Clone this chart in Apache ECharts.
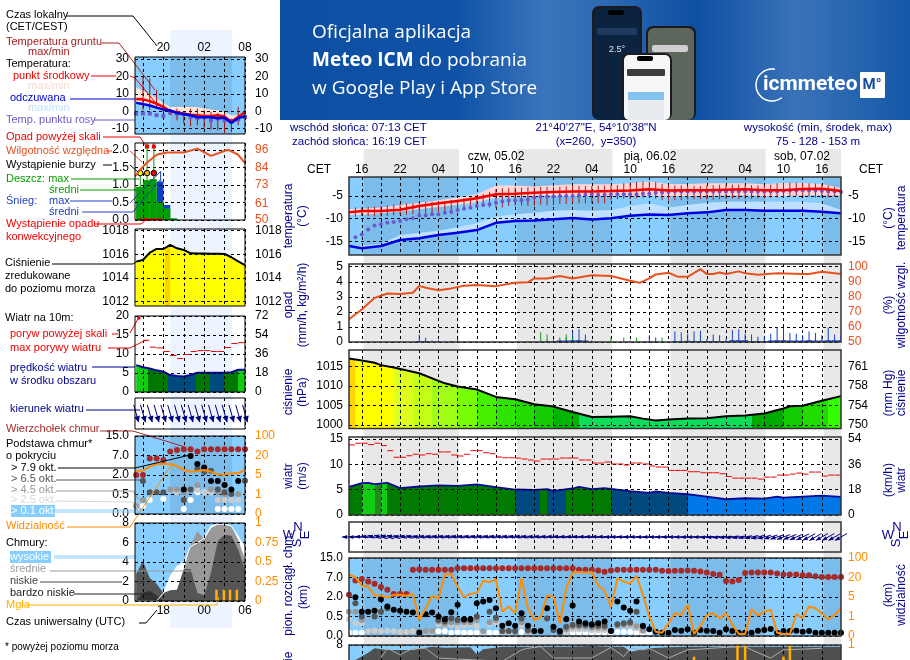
<!DOCTYPE html>
<html>
<head>
<meta charset="utf-8">
<title>Meteo ICM</title>
<script src="https://cdn.jsdelivr.net/npm/echarts@6/dist/echarts.min.js"></script>
<style>
html, body { margin: 0; padding: 0; background: #fff; overflow: hidden; }
#chart { width: 910px; height: 660px; }
</style>
</head>
<body>
<div id="chart"></div>
<script>
const _ = null;

// main chart: hours counted from midnight before the first label, one value per hour 14..91
const mainGridHours = [16,19,22,25,28,31,34,37,40,43,46,49,52,55,58,61,64,67,70,73,76,79,82,85,88];
const mainLabelHours = [16,22,28,34,40,46,52,58,64,70,76,82,88];
const mainLabels = ['16','22','04','10','16','22','04','10','16','22','04','10','16'];
const nightBands = [[16.3,31.2],[40.3,55.2],[64.3,79.2],[88.3,91]];
const knotHours = [14,16,19,22,25,28,31,34,37,40,43,46,49,52,55,58,61,64,67,70,73,76,79,82,85,88,91];

const tempMid = [-8.6,-8.3,-8.3,-8.0,-7.2,-6.6,-6.1,-5.5,-4.6,-4.5,-4.3,-4.1,-4.0,-4.0,-3.9,-3.75,-3.5,-3.75,-3.7,-3.7,-3.6,-3.5,-3.7,-3.7,-3.45,-3.4,-3.9];
const tempMax = [-7.9,-7.8,-7.5,-7.0,-6.5,-5.9,-5.3,-4.6,-2.7,-2.7,-2.9,-2.6,-2.4,-2.4,-2.4,-2.2,-1.8,-2.35,-2.35,-2.2,-2.2,-2.2,-2.4,-2.1,-2.1,-2.35,-3.2];
const tempMin = [-9.2,-9.1,-8.8,-8.4,-7.9,-7.4,-6.9,-6.3,-5.4,-5.2,-5.0,-5.0,-5.0,-5.0,-5.0,-5.0,-4.9,-5.0,-5.0,-5.0,-4.9,-4.9,-5.0,-5.0,-4.8,-4.8,-4.8];
const feels = [-16.0,-16.5,-16.0,-14.7,-14.3,-13.6,-13.1,-12.5,-10.9,-10.5,-10.4,-10.1,-9.85,-10.15,-9.9,-9.35,-9.05,-9.2,-8.8,-8.6,-8.1,-8.1,-8.25,-8.25,-8.25,-8.45,-8.8];
const feelsMax = [-15.9,-15.9,-15.6,-13.6,-13.1,-12.65,-11.9,-11.0,-9.55,-9,-8.7,-8.25,-8.1,-8.25,-8.1,-7.2,-6.6,-7.5,-7,-6.5,-6.25,-6.25,-6.25,-6.25,-6.25,-6.6,-8.1];
const dewPoint = [_,-14.1,-13.5,-12.4,-11.5,-11.2,-10.9,-10.7,-10.5,-10.1,-9.9,-9.3,-9.3,-9.0,-9.0,-8.7,-8.5,-8.1,-7.8,-7.6,-7.2,-7.0,-6.8,-6.5,-6.2,-6.0,-6.0,-5.9,-5.8,-5.3,-5.1,-5.1,-5.1,-5.0,-5.0,-5.0,-4.8,-4.7,-4.6,
  -4.7,-4.7,-4.6,-4.6,-4.6,-4.6,-4.6,-4.5,-4.5,-4.3,-4.2,-4.1,-4.0,-4.0,-4.0,-4.0,-4.0,-4.0,-4.0,-4.0,-4.0,-4.0,-4.0,-4.0,-4.0,-4.0,-4.0,-4.0,-4.0,-3.9,-3.8,-3.8,-3.8,-3.8,-3.8,-3.9,-4.0,-4.0,-4.1];
const groundMax = [_,-7.5,-7.5,-7.4,-7.35,-7.2,-7.05,-6.9,-6.75,-6.6,-6.6,-6.5,-6.3,-6.25,-6.2,-6.1,-5.9,-5.75,-5.5,-5.3,-4.8,-4.55,-4.1,-3.5,-3.3,-3.25,-3.15,-3.15,-3.1,-3.1,-3,-3,-2.95,-2.95,-2.85,-2.8,-2.8,-2.8,-2.8,
  -2.7,-2.7,-2.65,-2.6,-2.2,-2.05,-1.9,-1.8,-1.8,-1.9,-2.35,-2.5,-2.65,-2.65,-2.8,-2.8,-2.8,-2.65,-2.6,-2.5,-2.5,-2.45,-2.45,-2.45,-2.6,-2.65,-2.65,-2.5,-2.2,-2.05,-2.05,-2.05,-2.2,-2.2,-2.2,-2.35,-2.65,-2.95,-3.3];
const groundMin = [_,-9.55,-9.4,-9.4,-9.5,-9.55,-9.4,-9.25,-9.1,-9.1,-9,-9.1,-9.05,-8.8,-8.5,-8.4,-8.3,-8.1,-7.8,-7.5,-7.5,-7.35,-7.5,-7.65,-7.5,-7.2,-7.2,-7.05,-7.2,-7.2,-6.9,-7.05,-7,-6.75,-6.75,-6.6,-6.6,-6.6,-6.6,
  -6.6,-6.6,-5.9,-5.7,-5.6,-5.7,-5.5,-5.3,-5.3,-5.6,-5.9,-6,-5.9,-5.9,-5.8,-5.7,-5.7,-5.8,-5.8,-5.7,-5.6,-5.6,-5.7,-5.6,-5.6,-5.5,-5.5,-5.4,-5.3,-5.3,-5.2,-5.0,-5.0,-5.1,-5.3,-5.3,-5.3,-5.2,-4.9];

const humidityHours = [14,16,18,19,20,22,24,25,26,28,30,32,34,37,40,42,43,45,47,49,52,55,58,59.5,61,62,64,65.5,67,69,70,71,72,73,75,76,78,81,85,86,88,91];
const humidity = [65.1,71.6,79.3,80.7,82.2,81.8,82.7,87.3,86,84.4,85.6,87.3,87.8,87.1,89.3,89.6,92.2,92.2,93.8,92.2,94.4,93.8,90.7,89.3,92.2,94.9,96,93.3,93.3,98.4,95.1,95.1,96.2,95.1,96.9,95.6,94.7,95.6,95.1,95.1,96.7,95.1];
// hourly rain and snow spikes (mm/h)
const snowPeak = [0,0,0,0.03,0,0,0,0.05,0.03,0,0.05,0.5,0.28,0.1,0.12,0.03,0.08,0.2,0.05,0.03,0.03,0,0,0,0,0,0,0,0,0.05,0,0.1,0.03,0.15,0.3,0.7,0.85,0.5,0.1,0,0,0,0,0,0.1,0.02,
  0,0.45,0.3,0,0,0.7,0.65,0.55,0.7,0.75,0.2,0.5,0.45,0.2,0.8,0.85,0.55,0.5,0.35,0.4,0.55,1.0,0.95,0.6,0.55,0.45,0.7,0.6,0.45,0.95,0.5,0.45];
const rainPeak = [0,0,0,0,0,0,0,0,0,0,0,0,0,0,0,0,0,0,0,0,0,0,0,0,0,0,0,0,0.05,0,0.65,0.5,0.2,0.3,0.5,0.3,0.1,0.2,0.1,0,0,0.3,0,0.3,0,0.3,
  0,0,0,0.3,0,0,0,0,0.1,0.1,0.1,0.1,0.1,0,0,0,0,0,0,0,0,0,0,0,0,0,0,0,0,0,0,0];
const snowMean = [0,0,0,0,0,0,0,0,0,0,0,0.05,0.05,0,0,0,0,0,0,0,0,0,0,0,0,0,0,0,0,0,0.02,0.02,0.05,0.1,0.1,0.12,0.12,0.1,0,0,0,0,0,0,0,0,
  0,0.02,0.02,0,0,0.05,0.05,0.08,0.05,0.05,0.05,0.05,0.05,0.05,0.12,0.12,0.12,0.05,0.05,0.05,0.1,0.12,0.12,0.1,0.1,0.1,0.12,0.1,0.1,0.12,0.12,0.12];

const pressureHours = [14,16,18,19,21,25,29,31,34,37,40,43,46,49,52,55,58,60,62,64,67,70,73,76,79,82,83,85,88,91];
const pressure = [1017.1,1016.6,1016.0,1015.4,1014.8,1013.3,1010.7,1009.9,1009.1,1007.2,1006.6,1005.3,1004.7,1003.3,1002.0,1002.1,1002.2,1001.6,1001.1,1001.4,1001.6,1001.7,1002.2,1002.4,1002.9,1004.2,1004.8,1004.9,1006.2,1007.4];
const pressureTicks = [1000,1005,1010,1015];
const pressureMmHg = ['750','754','758','761'];
const pressureShadeHours = [14,15,21,24,27,31,34,37,40,43,46,50,77,82,85,89,91];
const pressureShades = ['#ffd400','#ffff00','#ddff20','#c4ff18','#a0ff14','#78ff08','#44f000','#2ee400','#22dc00','#14cc00','#00b400','#10dc5c','#00aa00','#11cc00','#22dc00','#33ff00'];

const windHours = [14,16,17,18,20,22,25,28,31,34,37,40,43,45,46,49,50,52,54,55,58,61,62,64,67,70,73,76,79,81,82,85,88,91];
const wind = [5.56,6.29,6.36,6.09,6.36,5.3,5.63,5.83,5.76,6.03,5.5,5.03,4.97,5.1,4.77,5.23,5.56,5.1,5.3,5.17,4.7,4.37,4.64,4.37,4.1,3.64,3.11,3.31,3.25,3.64,3.44,3.64,3.84,3.58];
const windShadeHours = [14,16,18,19,20,40,43.9,45,48,55,67,91];
const windShades = ['#007a00','#11cc11','#228822','#11cc11','#007a00','#004a80','#007a00','#004a80','#007a00','#004a80','#0078e8'];
const gust = [13.84,14.17,14.17,13.9,14.17,13.7,12.7,11.4,11.4,11.7,12,11.85,12.1,12,12.45,12.45,11.85,11.65,12,12.7,12.7,12.3,12.1,11.45,11.3,11.3,11.25,11.05,10.86,10.66,11.05,11.05,11.05,11.25,11.25,11.25,10.86,10.86,10.26,
  10.26,10.46,10.07,10.07,9.87,10.26,10.26,10.07,9.67,9.47,9.47,8.8,8.8,8.8,8.54,8.54,8.34,8.34,8.34,8.15,7.6,7.28,7.28,7.28,7.28,7.09,7.48,7.48,7.88,7.88,8.08,8.28,8.08,8.48,8.48,7.68,7.88,7.88];
const windDir = [90,90,95,98,102,105,105,103,100,100,100,98,98,98,98,98,98,98,98,98,98,98,98,98,98,98,98,98,98,97,97,96,96,96,95,95,95,95,95,
  94,94,93,93,92,92,92,90,90,90,90,90,90,90,88,88,88,86,85,84,84,82,82,80,78,76,75,74,72,70,68,66,64,62,60,60,60,60,60];

// cloud base panel: values are positions on its stepped scale, 0=0.0 km, 1=0.5, 2=2, 3=7, 4=15
const baseTicks = [0,1,2,3,4];
const baseLabels = ['0.0','0.5','2.0','7.0','15.0'];
const visLabels = ['0','1','5','20','100'];
const cloudTop = [2.11,2.85,2.92,2.8,2.68,2.51,2.37,2.16,2.16,2.15,3.4,3.42,3.4,3.4,3.4,3.4,3.4,3.47,3.47,3.47,3.47,3.47,3.47,3.47,3.47,3.47,3.47,3.47,3.47,3.47,3.47,3.47,3.47,3.47,3.47,3.47,3.4,3.4,3.4,
  3.36,3.3,3.36,3.4,3.4,3.4,3.4,3.4,3.4,3.4,3.35,3.33,3.35,3.35,3.36,3.35,3.31,3.26,3.18,3.14,2.82,2.8,2.87,3.23,3.26,3.26,3.26,3.26,3.21,3.16,3.16,3.16,3.12,3.12,3.06,3.02,3.02,3.02,3.02];
const baseBlack = [_,1.99,1.25,1.25,1.29,1.89,1.51,1.34,1.29,1.25,1.2,.17,1.12,1.2,1.0,.86,1.22,1.6,.86,.86,1.68,1.77,1.85,1.42,.53,.65,.52,1.17,.53,.26,.26,1.42,.48,.26,.86,1.56,.74,.65,.6,
  .65,.74,.26,1.77,1.46,1.3,1.77,.52,.34,.22,.17,.17,.31,.27,.34,.17,.31,.27,.26,.17,.34,.26,.17,.17,.17,.27,.31,.36,.17,.26,.26,.27,.22,.26,.17,.17,.17,.17,.17];
const baseDark = [_,1.68,1.0,_,1.0,1.25,1.42,_,_,_,_,_,_,_,.82,.74,.9,.82,.82,.82,1.0,_,1.25,.94,.26,.26,.26,.9,.31,_,_,.9,.31,.17,.48,.57,.57,.57,.52,
  .52,.52,.26,.6,.65,.7,1.25,.48,_,_,_,_,_,_,_,_,_,_,_,_,_,_,_,_,_,_,_,_,_,_,_,_,_,_,_,_,_,_,_];
const baseMid = [1.25,1.25,.82,_,_,_,_,_,_,_,_,.26,.26,.26,.75,.62,.7,.7,.7,.7,.82,.26,.7,.82,.26,.26,.2,.7,.2,_,_,_,_,_,.35,.48,.48,.48,.42,
  .42,.42,_,.52,.57,.6,.5,.3,_,_,_,_,_,_,_,_,_,_,_,_,_,_,_,_,_,_,_,_,_,_,_,_,_,_,_,_,_,_,_];
const baseLight = [.86,.65,.65,.25,.27,.25,.27,.25,.2,.2,.25,.2,.22,.2,.62,.55,.55,.45,.55,.6,.5,.2,.6,.7,.2,.2,.2,.52,_,_,_,_,_,_,.22,.35,.35,.35,.3,
  .3,.3,_,.5,.5,.52,.4,.25,_,_,_,_,_,_,_,_,_,_,_,_,_,_,_,_,_,_,_,_,_,_,_,_,_,_,_,_,_,_,_];
const baseWhite = [.17,.17,.17,_,_,_,_,_,_,_,_,_,_,_,.25,.25,.17,.2,.17,.17,.17,.17,.17,.17,_,_,_,.2,.17,_,_,_,_,_,.2,.17,.17,.17,.17,
  .17,.17,.17,.2,.2,.2,.17,.17,.17,_,_,_,_,_,_,_,_,_,_,_,_,_,_,_,_,_,_,_,_,_,_,_,_,_,_,_,_,_,_];
const visibility = [3.14,3.02,2.58,2.54,2.08,2.08,1.97,2.11,2.11,2.06,2.16,.82,1.42,2.06,1.91,3.16,3.18,2.54,1.99,2.16,2.2,2.83,2.76,2.9,1.25,1.51,1.17,2.97,1.42,.82,.94,2.06,2.03,.65,2.45,3.26,3.28,3.26,3.28,
  2.58,2.32,1.48,2.94,2.8,2.68,3.09,2.11,1.0,.22,.17,.65,1.17,1.08,1.6,.1,.52,1.08,1.17,.91,1.17,.57,.1,.1,1.37,1.05,1.25,1.34,.17,.1,.1,1.12,.91,1.51,1.42,1.17,.86,1.08,1.42];

const cloudHours = [14,15,17,18,20,22,24,27,29,33,34,35,38,43,48,52,55,57,58,61,64,67,91];
const lowCloud = [5.44,6.46,7.2,7.66,7.5,7.5,7.5,7.83,7.73,7.76,7.04,7.56,7.83,7.83,7.83,7.9,7.83,7.83,7.3,7.66,7.76,7.83,7.83];
const highLineHours = [19,20,22,24,26,28,38,41,42,44,46,52,55,57,58,60,61,64,67,73,76,77,80,82,88];
const highLine = [6.66,7.66,7,7.66,7.66,6.66,6.33,7.5,7.66,7.83,6.66,6.66,7.76,6.8,7.66,7.5,7.66,6.66,7.5,7.76,7.83,7.5,6.66,7.5,7.66];
const fogHours = [68,74.8,76,82,83];
const fog = [0.85,1,1,0.85,1];

// left legend chart, one value per hour 16..32
const legendGridHours = [17,20,23,26,29,32];
const legendLabelHours = [20,26,32];
const legendLocal = ['20','02','08'];
const legendUtc = ['18','00','06'];
const legendNight = [[21,30.1]];
const redL = [7.1,6.8,5.8,4.3,2.5,0,-0.6,-1.4,-2,-2.3,-2.7,-2.7,-2.3,-3.2,-6,-3.2,-0.6];
const pinkMaxL = [13.7,11.8,9.7,7.3,4.8,2.5,2.5,2.5,2.5,2.5,1.5,1,0.6,-0.4,-2.3,-2.3,-0.4];
const pinkMinL = [5.6,5,4.2,3,1.2,-1,-1.6,-2.2,-2.8,-3.2,-3.6,-3.6,-3.2,-4.2,-7,-4.2,-1.6];
const feelsL = [4.8,4.1,3.3,2.1,1,0.4,-1,-1.7,-2.3,-3.5,-3.5,-3.5,-4.1,-3.7,-6.8,-3.9,-2.9];
const dewL = [-1.35,-1.35,-1.35,-2.3,-2.7,-1,-1.35,-1.5,-3.3,-3.9,-3.3,-5.2,-4.25,-5.2,-5.6,-4.8,-3.3];
const groundHoursL = [17,18,19,20,21,22,23,24,25,26,27,28,29,30,31];
const groundMaxL = [20.3,18.9,12.2,7,1.5,1.5,-0.4,1.5,1.5,0.6,-0.4,-1,-1.35,-4.25,2.5];
const groundMinL = [0.6,0.6,1.5,-0.5,-2.3,-5.2,-7.1,-8.7,-8.1,-10,-10.6,-11,-12.6,-12,-8.1];

const humidityHoursL = [15.83,16.5,17.5,19,20.5,23,25,27,29.5,31,32];
const humidityL = [78.5,82.4,87.2,92.7,94.2,94.2,96.7,92,96,92.7,87.2];
const rainHoursL = [16.5,17.5,18.5,19.5,20.5,21.5];
const rainMeanL = [0.95,1.14,1.17,0.52,0.33,0.05];
const snowMeanL = [0,0,0,1.1,0.43,0];
const rainMaxHoursL = [16.6,17.6,18.6];
const rainMaxL = [1.4,2.3,2.3];
const snowMaxL = 1.4;
const overScaleHoursL = [17.6,18.6];
const convectHoursL = [16.6,17.2,17.6,18.2,18.6,19.2,19.6];

const pressureL = [1015.38,1015.52,1016.14,1016.45,1016.45,1016.79,1016.51,1016.37,1016.08,1016.06,1016.06,1016.05,1016.04,1016.03,1015.75,1015.4,1015.09];
const pressureShadeHoursL = [15.83,20.3,21,32];
const pressureShadesL = ['#ffff00','#ffd000','#ffff00'];
const windL = [7.07,6.5,6.2,5.7,5.33,4.45,4.2,4.1,4.5,5.07,5.07,5.07,5.07,5.07,5.2,5.85,5.85];
const windShadeHoursL = [15.83,17.7,20.7,24.8,26.8,28.9,31,32];
const windShadesL = ['#11cc11','#007700','#004a80','#007700','#004a80','#007700','#11cc11'];
const gustHoursL = [17,18,19,20,21,22,23,24,25,26,27,28,29,30,31];
const gustL = [13.6,11.8,11.6,10.65,9.6,8.8,9.87,10.65,10.9,10.9,10.65,10.65,11.7,12.75,13];
const windDirL = [344,344,344,344,344,344,344,344,344,344,344,344,344,344,344,344,344];

const topsL = [2,2,2.85,2.85,2.77,3.2,3.28,3.32,3.32,3.2,3.32,3.32,3.32,3.32,3.32,3.32,3.32];
const blackL = [_,_,_,_,_,_,_,1.26,2.97,2.56,2.38,1.69,1.69,1.49,1.26,1.69,_];
const darkL = [_,1.69,1.11,1.11,1.11,_,_,.72,1.26,2.31,2.17,2.22,1.26,1.11,1.03,_,1.71];
const midL = [.41,.72,_,_,_,1.26,1.26,1.11,_,1.49,_,1.26,1.11,1.03,_,1.03,_];
const lightL = [.45,_,_,_,_,1.23,1.11,_,_,1.23,1.11,1.11,.72,.72,.72,.72,_];
const whiteL = [_,.41,.72,_,.77,_,_,.26,.72,1.11,1.11,1.11,.26,.26,.26,.26,_];
const visL = [2.22,2.22,2.43,2.56,2.56,2.56,2.46,2.26,2.17,2.2,2.26,2.17,2.03,2.03,2.09,2.09,2.26];

const lowL = [2.8,4.07,2.36,1.78,.82,1.1,1.16,3.29,3.29,.82,.58,2.88,6.13,6.8,6.7,5.27,3.2];
const midCloudL = [0,0,0,0,0,0,0,3.2,5.8,7.16,6.3,7.5,7.84,7.84,7.67,6.3,4.25];
const highCloudL = [0,0,0,0,.8,2.53,3.56,3.97,5.6,5.96,6.47,7.67,7.9,7.9,7.67,6.64,5.45];
const veryLowL = [0,.82,1.06,.58,0,0,0,0,0,0,0,0,0,0,0,0,0];
const fogHoursL = [27.8,28.9,29.8,30.8];
const fogL = [0.145,0.145,0.145,0.145];

const FONT = 'Liberation Sans';
const NAVY = '#00008b';
const ORANGE = '#ff8c00';
const HUMID = '#e8501e';
const SKY = '#87ceff';
const SKY_NIGHT = '#7cbcea';
const DASH = [3, 3];

const chart = echarts.init(document.getElementById('chart'));
const grids = [], xAxes = [], yAxes = [], series = [], graphics = [];
let textSize = 11.5;

function hourSpan(a, b) {
    let out = [];
    for (let h = a; h <= b; h++) out.push(h);
    return out;
}
const mainHours = hourSpan(14, 91);
const legendHours = hourSpan(16, 32);

function zip(xs, ys) {
    return xs.map((x, i) => [x, ys[i]]).filter(p => p[1] !== null && p[1] !== undefined);
}

function yAxisDef(grid, y, side) {
    return {
        type: 'value', gridIndex: grid, position: side, min: y.min, max: y.max, z: 3,
        axisLine: {show: false},
        axisTick: {show: false, customValues: y.ticks},
        axisLabel: {
            show: !!y.ticks, customValues: y.ticks, margin: y.margin, color: y.color || '#000',
            fontFamily: FONT, fontSize: 12,
            formatter: v => {
                let i = y.ticks.indexOf(v);
                return y.labels ? y.labels[i] : String(v);
            }
        },
        splitLine: {show: side === 'left' && !!y.ticks, lineStyle: {color: '#000', type: DASH, width: 1}}
    };
}

// one framed panel: a grid with its x axis and a y axis on each side
function addPanel(box, xr, gridHours, xl, yl, yr) {
    let g = grids.length;
    grids.push({left: box[0], top: box[1], width: box[2], height: box[3], containLabel: false, outerBoundsMode: 'none'});
    let xi = xAxes.length;
    xAxes.push({
        type: 'value', gridIndex: g, min: xr[0], max: xr[1], z: 3, position: xl ? xl.pos : 'bottom',
        axisLine: {show: false},
        axisTick: {show: false, customValues: gridHours},
        axisLabel: xl ? {
            customValues: xl.hours, margin: xl.margin, color: '#000', fontFamily: FONT, fontSize: 12,
            formatter: v => xl.texts[xl.hours.indexOf(v)]
        } : {show: false},
        splitLine: {show: true, lineStyle: {color: '#000', type: DASH, width: 1}}
    });
    let yi = yAxes.length;
    yAxes.push(yAxisDef(g, yl, 'left'));
    yAxes.push(yAxisDef(g, yr || yl, 'right'));
    graphics.push({type: 'rect', z: 40, shape: {x: box[0], y: box[1], width: box[2], height: box[3]},
        style: {fill: 'none', stroke: box.stroke || '#000', lineWidth: box.lw || 1}});
    return {x: xi, y: yi, y2: yi + 1, box: box, xr: xr};
}

function bands(p, ranges, color, z) {
    series.push({
        type: 'custom', xAxisIndex: p.x, yAxisIndex: p.y, z: z || 1, silent: true, clip: true,
        data: ranges, encode: {x: [0, 1]},
        renderItem: (params, api) => {
            let a = api.coord([api.value(0), p.ymid]), b = api.coord([api.value(1), p.ymid]);
            return {type: 'rect', shape: {x: a[0], y: params.coordSys.y, width: b[0] - a[0], height: params.coordSys.height},
                style: {fill: color}};
        }
    });
}

function rangeBand(p, xs, hi, lo, color, z) {
    series.push({
        type: 'custom', xAxisIndex: p.x, yAxisIndex: p.y, z: z || 2, silent: true,
        data: [[xs[0], hi[0]]], clip: true,
        renderItem: (params, api) => {
            let pts = xs.map((x, i) => api.coord([x, hi[i]]));
            for (let i = xs.length - 1; i >= 0; i--) pts.push(api.coord([xs[i], lo[i]]));
            return {type: 'polygon', shape: {points: pts}, style: {fill: color}};
        }
    });
}

function line(p, xs, ys, color, width, z, yi) {
    series.push({
        type: 'line', xAxisIndex: p.x, yAxisIndex: yi === undefined ? p.y : yi, data: zip(xs, ys), z: z || 6,
        symbol: 'none', silent: true, connectNulls: true,
        lineStyle: {color: color, width: width || 2}
    });
}

function area(p, xs, ys, fill, lineColor, width, z, yi) {
    series.push({
        type: 'line', xAxisIndex: p.x, yAxisIndex: yi === undefined ? p.y : yi, data: zip(xs, ys), z: z || 2,
        symbol: 'none', silent: true,
        lineStyle: {color: lineColor || fill, width: width === undefined ? 0 : width},
        areaStyle: {color: fill, opacity: 1, origin: 'start'}
    });
}

// fill whose colour changes at fixed hours
function shade(p, hours, colors) {
    let left = p.box[0], w = p.box[2], span = p.xr[1] - p.xr[0], stops = [];
    colors.forEach((c, i) => {
        stops.push({offset: (hours[i] - p.xr[0]) / span, color: c});
        stops.push({offset: (hours[i + 1] - p.xr[0]) / span, color: c});
    });
    return {type: 'linear', x: left, y: 0, x2: left + w, y2: 0, global: true, colorStops: stops};
}

function dots(p, xs, ys, color, size, border, symbol) {
    series.push({
        type: 'scatter', xAxisIndex: p.x, yAxisIndex: p.y, data: zip(xs, ys), z: 5, silent: true,
        symbol: symbol || 'circle', symbolSize: size || 6,
        itemStyle: {color: color, borderColor: border || color, borderWidth: border ? 1 : 0, opacity: 1}
    });
}

// vertical sticks between two values of the panel's scale
function sticks(p, xs, lo, hi, color, width, z, yi) {
    series.push({
        type: 'custom', xAxisIndex: p.x, yAxisIndex: yi === undefined ? p.y : yi, z: z || 4, silent: true, clip: true,
        data: xs.map((x, i) => [x, lo[i], hi[i]]).filter(d => d[1] !== null && d[2] !== null && d[2] !== 0),
        encode: {x: 0, y: [1, 2]},
        renderItem: (params, api) => {
            let a = api.coord([api.value(0), api.value(1)]), b = api.coord([api.value(0), api.value(2)]);
            return {type: 'line', shape: {x1: a[0], y1: a[1], x2: b[0], y2: b[1]},
                style: {stroke: color, lineWidth: width || 1}};
        }
    });
}

// one short flat dash per hour
function dashes(p, xs, ys, color, z) {
    series.push({
        type: 'custom', xAxisIndex: p.x, yAxisIndex: p.y, z: z || 5, silent: true,
        data: zip(xs, ys), encode: {x: 0, y: 1},
        renderItem: (params, api) => {
            let a = api.coord([api.value(0), api.value(1)]), b = api.coord([api.value(0) + 1, api.value(1)]);
            return {type: 'line', shape: {x1: a[0], y1: a[1], x2: b[0] - 0.5, y2: b[1]}, style: {stroke: color, lineWidth: 1}};
        }
    });
}

function arrows(p, xs, dirs, len, headLen, headW, color) {
    series.push({
        type: 'custom', xAxisIndex: p.x, yAxisIndex: p.y, z: 6, silent: true, clip: false,
        data: zip(xs, dirs), encode: {x: 0},
        renderItem: (params, api) => {
            let c = api.coord([api.value(0), 0]), rad = api.value(1) * Math.PI / 180;
            let vx = Math.sin(rad), vy = -Math.cos(rad);
            let tip = [c[0] - vx * len / 2, c[1] - vy * len / 2], tail = [c[0] + vx * len / 2, c[1] + vy * len / 2];
            let bx = tip[0] + vx * headLen, by = tip[1] + vy * headLen;
            return {type: 'group', children: [
                {type: 'line', shape: {x1: tip[0], y1: tip[1], x2: tail[0], y2: tail[1]}, style: {stroke: color, lineWidth: 1}},
                {type: 'polygon', shape: {points: [tip, [bx - vy * headW, by + vx * headW], [bx + vy * headW, by - vx * headW]]}, style: {fill: color}}
            ]};
        }
    });
}

function T(x, y, s, color, o) {
    o = o || {};
    graphics.push({type: 'text', x: x, y: y, z: o.z || 45, rotation: o.rot || 0, silent: true,
        style: {text: s, fill: color || '#000', font: (o.weight || 'normal') + ' ' + (o.size || textSize) + 'px ' + (o.family || FONT),
            align: o.align || 'left', verticalAlign: 'middle'}});
}
function V(x, y, s, color) {
    T(x, y, s, color || NAVY, {rot: Math.PI / 2, align: 'center', size: 12});
}
function L(points, color, w) {
    graphics.push({type: 'polyline', z: 30, silent: true, shape: {points: points},
        style: {stroke: color, lineWidth: w || 1, fill: 'none'}});
}
function box(x, y, w, h, fill, z, r) {
    graphics.push({type: 'rect', z: z || 1, silent: true, shape: {x: x, y: y, width: w, height: h, r: r || 0}, style: {fill: fill}});
}

/* ---------- main chart ---------- */
const mainX = [14, 91];
const frame = (t, h) => { let b = [349, t, 492, h]; b.lw = 1.5; b.stroke = '#333'; return b; };

let pBack = addPanel([349, 149, 492, 511], mainX, [], null, {min: 0, max: 1}, {min: 0, max: 1});
pBack.ymid = 0.5;
graphics.pop();
xAxes[pBack.x].splitLine.show = false;
bands(pBack, nightBands, '#e8e8e8', 0);

// faint logo watermark showing through the night bands
graphics.push({type: 'arc', z: 0.5, silent: true, shape: {cx: 439, cy: 399, r: 63, startAngle: Math.PI * 0.58, endAngle: Math.PI * 1.42},
    style: {stroke: '#dedede', lineWidth: 24, fill: 'none'}});
box(519, 262, 22, 68, '#dedede', 0.5);
graphics.push({type: 'arc', z: 0.5, silent: true, shape: {cx: 692, cy: 400, r: 17, startAngle: Math.PI, endAngle: Math.PI * 2},
    style: {stroke: '#f1f1f1', lineWidth: 14, fill: 'none'}});

let pTemp = addPanel(frame(177, 78), mainX, mainGridHours,
    {pos: 'top', hours: mainLabelHours, texts: mainLabels, margin: 1},
    {min: -18, max: -0.8, ticks: [-15, -10, -5], margin: 6},
    {min: -18, max: -0.8, ticks: [-15, -10, -5], margin: 7});
pTemp.ymid = -10;
bands(pTemp, [mainX], SKY);
bands(pTemp, nightBands, SKY_NIGHT);
rangeBand(pTemp, knotHours, tempMax, tempMin, '#ffd5d5');
rangeBand(pTemp, knotHours, feelsMax, feels, '#bfe0ff');
sticks(pTemp, mainHours, groundMin, groundMax, '#a82020', 1, 4);
line(pTemp, knotHours, tempMid, '#f00000', 2.5);
line(pTemp, knotHours, feels, '#0000e0', 2.5);
dots(pTemp, mainHours, dewPoint, '#6a5acd', 4);

let pRain = addPanel(frame(264, 78), mainX, mainGridHours, null,
    {min: 0, max: 5.18, ticks: [0, 1, 2, 3, 4, 5], margin: 6},
    {min: 50, max: 101.8, ticks: [50, 60, 70, 80, 90, 100], color: HUMID, margin: 7});
const zero = mainHours.map(() => 0);
sticks(pRain, mainHours, zero, snowPeak, '#1040d0', 1, 4);
sticks(pRain, mainHours, zero, rainPeak, '#10a010', 1, 4);
sticks(pRain, mainHours, zero, snowMean, '#1040d0', 6, 4);
line(pRain, humidityHours, humidity, HUMID, 2, 6, pRain.y2);

let pPress = addPanel(frame(350, 78.5), mainX, mainGridHours, null,
    {min: 999.05, max: 1019.3, ticks: pressureTicks, margin: 6},
    {min: 999.05, max: 1019.3, ticks: pressureTicks, labels: pressureMmHg, margin: 7});
area(pPress, pressureHours, pressure, shade(pPress, pressureShadeHours, pressureShades), '#000', 2, 2);

let pWind = addPanel(frame(437, 78), mainX, mainGridHours, null,
    {min: 0, max: 15.4, ticks: [0, 5, 10, 15], margin: 6},
    {min: 0, max: 15.4, ticks: [0, 5, 10, 15], labels: ['0', '18', '36', '54'], margin: 7});
area(pWind, windHours, wind, shade(pWind, windShadeHours, windShades), '#0a0a96', 1.8, 2);
dashes(pWind, mainHours.slice(0, 77), gust, '#f00000');

let pDir = addPanel(frame(522, 30), mainX, mainGridHours, null, {min: -1, max: 1});
arrows(pDir, mainHours, windDir, 14, 5, 2, '#000080');

let pBase = addPanel(frame(558, 78), mainX, mainGridHours, null,
    {min: 0, max: 4, ticks: baseTicks, labels: baseLabels, margin: 6},
    {min: 0, max: 4, ticks: baseTicks, labels: visLabels, color: ORANGE, margin: 7});
pBase.ymid = 2;
bands(pBase, [mainX], SKY);
bands(pBase, nightBands, SKY_NIGHT);
dots(pBase, mainHours, cloudTop, '#a52a2a');
dots(pBase, mainHours, baseWhite, '#ffffff');
dots(pBase, mainHours, baseLight, '#cccccc');
dots(pBase, mainHours, baseMid, '#999999');
dots(pBase, mainHours, baseDark, '#555555');
dots(pBase, mainHours, baseBlack, '#000000');
line(pBase, mainHours, visibility, ORANGE, 2, 7);

// only the top of this panel fits on the page
let pCloud = addPanel(frame(645, 78), mainX, mainGridHours, null,
    {min: 0, max: 8, ticks: [8], margin: 6},
    {min: 0, max: 1, ticks: [1], color: ORANGE, margin: 7});
pCloud.ymid = 4;
bands(pCloud, [mainX], SKY);
area(pCloud, cloudHours, lowCloud, '#505050');
line(pCloud, highLineHours, highLine, '#aaaaaa', 1, 4);
sticks(pCloud, fogHours, fogHours.map(() => 0), fog, '#ffb000', 2.5, 6, pCloud.y2);

/* ---------- legend chart ---------- */
const legX = [15.83, 32];
let lBack = addPanel([135, 30, 110, 598], legX, [], null, {min: 0, max: 1}, {min: 0, max: 1});
lBack.ymid = 0.5;
graphics.pop();
xAxes[lBack.x].splitLine.show = false;
bands(lBack, legendNight, '#edf4ff', 0);

let lTemp = addPanel([135, 57, 110, 77], legX, legendGridHours,
    {pos: 'top', hours: legendLabelHours, texts: legendLocal, margin: 3},
    {min: -13.1, max: 31.2, ticks: [-10, 0, 10, 20, 30], margin: 6},
    {min: -13.1, max: 31.2, ticks: [-10, 0, 10, 20, 30], margin: 10});
lTemp.ymid = 0;
bands(lTemp, [legX], SKY);
bands(lTemp, legendNight, SKY_NIGHT);
rangeBand(lTemp, legendHours, pinkMaxL, pinkMinL, '#ffe4d8');
sticks(lTemp, groundHoursL, groundMinL, groundMaxL, '#a01010', 1, 4);
line(lTemp, legendHours, redL, '#f00000', 2.5);
line(lTemp, legendHours, feelsL, '#0000e0', 2.5);
dots(lTemp, legendHours, dewL, '#6a5acd', 4, null, 'rect');

let lRain = addPanel([135, 143, 110, 77], legX, legendGridHours, null,
    {min: 0, max: 2.2, ticks: [0, 0.5, 1, 1.5, 2], labels: ['0.0', '0.5', '1.0', '1.5', '2.0'], margin: 6},
    {min: 50, max: 100.4, ticks: [50, 61, 73, 84, 96], color: HUMID, margin: 10});
const zeroRain = rainHoursL.map(() => 0);
sticks(lRain, rainHoursL, zeroRain, snowMeanL, '#1040c0', 7, 2);
sticks(lRain, rainHoursL, zeroRain, rainMeanL, '#00a000', 7, 2);
sticks(lRain, rainMaxHoursL, rainMaxHoursL.map(() => 0), rainMaxL, '#00a000', 1, 4);
sticks(lRain, [19.6], [1.1], [snowMaxL], '#1040c0', 1, 4);
line(lRain, humidityHoursL, humidityL, HUMID, 2, 6, lRain.y2);
dots(lRain, overScaleHoursL, [2.1, 2.1], '#f00000', 4, null, 'rect');
dots(lRain, rainMaxHoursL.slice(0, 1), [1.34], '#ffff00', 5.5, '#000');
dots(lRain, rainMaxHoursL.slice(1, 2), [1.34], '#ffb000', 5.5, '#000');
dots(lRain, rainMaxHoursL.slice(2, 3), [1.34], '#f00000', 5.5, '#000');
dots(lRain, convectHoursL, convectHoursL.map(() => 0.02), '#f00000', 3);

let lPress = addPanel([135, 229, 110, 77], legX, legendGridHours, null,
    {min: 1011.63, max: 1018.14, ticks: [1012, 1014, 1016, 1018], margin: 6},
    {min: 1011.63, max: 1018.14, ticks: [1012, 1014, 1016, 1018], margin: 10});
area(lPress, legendHours, pressureL, shade(lPress, pressureShadeHoursL, pressureShadesL), '#000', 2, 2);

let lWind = addPanel([135, 316, 110, 76], legX, legendGridHours, null,
    {min: 0, max: 20, ticks: [0, 5, 10, 15, 20], margin: 6},
    {min: 0, max: 20, ticks: [0, 5, 10, 15, 20], labels: ['0', '18', '36', '54', '72'], margin: 10});
area(lWind, legendHours, windL, shade(lWind, windShadeHoursL, windShadesL), '#0a0a96', 2, 2);
dashes(lWind, gustHoursL, gustL, '#f00000');
dots(lWind, [16.4], [19.5], '#f00000', 3.5);

let lDir = addPanel([135, 398, 110, 31], legX, legendGridHours, null, {min: -1, max: 1});
arrows(lDir, legendHours, windDirL, 18, 6, 3, '#000080');

let lBase = addPanel([135, 436, 110, 78], legX, legendGridHours, null,
    {min: 0, max: 4, ticks: baseTicks, labels: baseLabels, margin: 6},
    {min: 0, max: 4, ticks: baseTicks, labels: visLabels, color: ORANGE, margin: 10});
lBase.ymid = 2;
bands(lBase, [legX], SKY);
bands(lBase, legendNight, SKY_NIGHT);
dots(lBase, legendHours, topsL, '#a52a2a');
dots(lBase, legendHours, whiteL, '#ffffff');
dots(lBase, legendHours, lightL, '#cccccc');
dots(lBase, legendHours, midL, '#999999');
dots(lBase, legendHours, darkL, '#555555');
dots(lBase, legendHours, blackL, '#000000');
line(lBase, legendHours, visL, ORANGE, 2, 7);

let lCloud = addPanel([135, 523, 110, 78], legX, legendGridHours,
    {pos: 'bottom', hours: legendLabelHours, texts: legendUtc, margin: 4},
    {min: 0, max: 8, ticks: [0, 2, 4, 6, 8], margin: 6},
    {min: 0, max: 1, ticks: [0, 0.25, 0.5, 0.75, 1], color: ORANGE, margin: 10});
lCloud.ymid = 4;
bands(lCloud, [legX], SKY);
area(lCloud, legendHours, highCloudL, '#ffffff', '#ffffff', 1, 2);
area(lCloud, legendHours, midCloudL, '#999999', null, 0, 2);
area(lCloud, legendHours, lowL, '#555555', null, 0, 2);
area(lCloud, legendHours, veryLowL, '#333333', null, 0, 2);
sticks(lCloud, fogHoursL, fogHoursL.map(() => 0), fogL, '#ffb000', 2.5, 6, lCloud.y2);

/* ---------- banner ---------- */
graphics.push({type: 'rect', z: 1, silent: true, shape: {x: 280, y: 0, width: 630, height: 120}, style: {
    fill: {type: 'linear', x: 280, y: 0, x2: 910, y2: 0, global: true, colorStops: [
        {offset: 0, color: '#0c4fa3'}, {offset: 0.28, color: '#0f52a5'}, {offset: 0.42, color: '#3a74bb'},
        {offset: 0.52, color: '#2c68b3'}, {offset: 0.66, color: '#0e50a2'}, {offset: 0.82, color: '#3a72b8'},
        {offset: 1, color: '#1458a8'}]}
}});
T(312, 33, 'Oficjalna aplikacja', '#fff', {size: 19, family: 'Open Sans'});
T(312, 61, 'Meteo ICM', '#fff', {size: 19, family: 'Open Sans', weight: 'bold'});
T(419, 61, 'do pobrania', '#fff', {size: 19, family: 'Open Sans'});
T(312, 89, 'w Google Play i App Store', '#fff', {size: 19, family: 'Open Sans'});

box(592, 6, 50, 114, '#1a1a1f', 2, 7);
box(594, 8, 46, 112, '#0c2340', 3, 6);
box(608, 10, 16, 5, '#000', 4, 2);
T(617, 50, '2.5°', '#dfe8f5', {size: 9, align: 'center', z: 5});
box(597, 28, 40, 7, '#1f3a5c', 4, 2);
box(646, 26, 50, 94, '#1a1a1f', 2, 7);
box(648, 28, 46, 92, '#5c665c', 3, 6);
box(652, 45, 36, 7, '#cfcfcf', 4, 2);
box(622, 53, 50, 67, '#1a1a1f', 5, 7);
box(624, 55, 46, 65, '#f6f6f6', 6, 5);
box(627, 69, 38, 7, '#3c3c3c', 7, 1);
box(628, 92, 36, 8, '#82c4ef', 7, 0);
box(628, 100, 36, 20, '#e8ecf0', 7, 0);
box(637, 56, 16, 5, '#000', 8, 2);

graphics.push({type: 'arc', z: 3, silent: true, shape: {cx: 772, cy: 85, r: 16, startAngle: 0.9, endAngle: 4.9},
    style: {stroke: '#fff', lineWidth: 1.5, fill: 'none'}});
T(763, 85, 'icmmeteo', '#fff', {size: 21, family: 'Roboto', weight: 'bold'});
box(860, 72, 25, 26, '#ffffff', 3, 1);
T(872, 85, 'M°', '#134f9f', {size: 15, family: 'Roboto', weight: 'bold', align: 'center'});

/* ---------- header texts ---------- */
T(290, 128, 'wschód słońca: 07:13 CET', NAVY);
T(292, 142, 'zachód słońca: 16:19 CET', NAVY);
T(596, 128, '21°40\'27"E, 54°10\'38"N', NAVY, {align: 'center'});
T(596, 142, '(x=260,  y=350)', NAVY, {align: 'center'});
T(818, 128, 'wysokość (min, środek, max)', NAVY, {align: 'center'});
T(818, 142, '75 - 128 - 153 m', NAVY, {align: 'center'});
T(496, 157, 'czw, 05.02', '#000', {align: 'center', size: 12});
T(650, 157, 'pią, 06.02', '#000', {align: 'center', size: 12});
T(802, 157, 'sob, 07.02', '#000', {align: 'center', size: 12});
T(319, 170, 'CET', '#000', {align: 'center', size: 12});
T(871, 170, 'CET', '#000', {align: 'center', size: 12});

V(289, 216, 'temperatura'); V(303, 216, '(°C)');
V(889, 218, '(°C)'); V(902, 218, 'temperatura');
V(289, 305, 'opad'); V(303, 305, '(mm/h, kg/m²/h)');
V(889, 305, '(%)'); V(902, 305, 'wilgotność wzgl.');
V(289, 392, 'ciśnienie'); V(303, 392, '(hPa)');
V(889, 393, '(mm Hg)'); V(902, 393, 'ciśnienie');
V(289, 476, 'wiatr'); V(303, 476, '(m/s)');
V(889, 480, '(km/h)'); V(902, 480, 'wiatr');
V(289, 584, 'pion. rozciągł. chm.'); V(304, 597, '(km)');
V(889, 595, '(km)'); V(902, 595, 'widzialność');
V(289, 689, 'zachmurzenie');

function compass(x, y) {
    T(x, y, 'W', NAVY, {align: 'center', size: 13});
    T(x + 9, y - 8, 'N', NAVY, {align: 'center', size: 13});
    T(x + 8, y + 8, 'S', NAVY, {align: 'center', size: 13, rot: Math.PI / 2});
    T(x + 16, y, 'E', NAVY, {align: 'center', size: 13, rot: Math.PI / 2});
}
compass(289, 535);
compass(888, 535);

/* ---------- legend texts ---------- */
textSize = 11;
T(6, 15, 'Czas lokalny', '#000');
T(6, 27, '(CET/CEST)', '#000');
L([[66, 16], [133, 16], [157, 46]], '#000');
T(6, 42, 'Temperatura gruntu', '#a52020');
T(28, 52, 'max/min', '#a52020');
L([[102, 43], [119, 43], [155, 90]], '#a52020');
T(6, 64, 'Temperatura:', '#000');
T(13, 76, 'punkt środkowy', '#f00000');
L([[91, 76], [116, 76]], '#f00000');
L([[130, 76], [135, 78], [155, 102]], '#f00000');
T(28, 86, 'max/min', '#f5ddd2');
T(10, 98, 'odczuwana', '#0000e0');
L([[70, 99], [135, 99]], '#0000e0');
T(28, 108, 'max/min', '#bfe0ff');
T(6, 120, 'Temp. punktu rosy', '#6a5acd');
L([[94, 120], [135, 120]], '#6a5acd');
T(6, 137, 'Opad powyżej skali', '#f00000');
L([[103, 137], [140, 137], [146, 146]], '#f00000');
T(6, 151, 'Wilgotność względna', HUMID);
L([[106, 151], [112, 151]], HUMID);
L([[130, 151], [142, 162]], HUMID);
T(6, 165, 'Wystąpienie burzy', '#000');
L([[103, 165], [112, 165]], '#000');
L([[130, 165], [138, 172]], '#000');
T(6, 179, 'Deszcz: max', '#00a000');
L([[71, 179], [139, 179]], '#00a000');
T(49, 190, 'średni', '#00a000');
L([[80, 190], [145, 190]], '#00a000');
T(6, 201, 'Śnieg:', '#2040c0');
T(49, 201, 'max', '#2040c0');
L([[70, 201], [112, 201]], '#2040c0');
L([[130, 203], [160, 172]], '#2040c0');
T(49, 212, 'średni', '#2040c0');
L([[82, 212], [133, 212], [160, 180]], '#2040c0');
T(6, 224, 'Wystąpienie opadu', '#f00000');
L([[95, 224], [141, 224], [147, 219]], '#f00000');
T(6, 237, 'konwekcyjnego', '#f00000');
T(5, 263, 'Ciśnienie', '#000');
L([[52, 264], [133, 264], [136, 262]], '#000');
T(5, 276, 'zredukowane', '#000');
T(5, 289, 'do poziomu morza', '#000');
T(5, 318, 'Wiatr na 10m:', '#000');
T(10, 334, 'poryw powyżej skali', '#f00000');
L([[112, 334], [118, 334]], '#f00000');
L([[130, 333], [139, 317]], '#f00000');
T(10, 348, 'max porywy wiatru', '#f00000');
L([[108, 348], [130, 348], [146, 340]], '#f00000');
T(10, 368, 'prędkość wiatru', NAVY);
L([[92, 367], [135, 367]], NAVY);
T(10, 381, 'w środku obszaru', NAVY);
T(10, 409, 'kierunek wiatru', NAVY);
L([[86, 410], [140, 410]], NAVY);
T(6, 429, 'Wierzchołek chmur', '#a52a2a');
L([[100, 431], [133, 431], [185, 447]], '#a52a2a');
T(6, 444, 'Podstawa chmur*', '#000');
T(6, 456, 'o pokryciu', '#000');
T(11, 468, '> 7.9 okt.', '#000');
L([[58, 468], [135, 468], [190, 455]], '#000');
T(11, 479, '> 6.5 okt.', '#555');
L([[56, 480], [143, 480]], '#555');
T(11, 490, '> 4.5 okt.', '#999');
L([[56, 491], [133, 491], [139, 500]], '#999');
T(11, 500, '> 2.5 okt.', '#d8d8d8');
L([[56, 501], [133, 502], [139, 510]], '#d8d8d8');
box(11, 505, 44, 12, SKY, 10);
T(11, 511, '> 0.1 okt.', '#fff');
L([[55, 510], [135, 510]], SKY);
L([[55, 512], [135, 512]], SKY);
T(6, 526, 'Widzialność', ORANGE);
L([[67, 527], [130, 527], [172, 464]], ORANGE);
T(6, 543, 'Chmury:', '#000');
box(10, 551, 41, 12, SKY, 10);
T(10, 557, 'wysokie', '#fff');
L([[54, 556], [186, 556]], SKY);
L([[54, 558], [186, 558]], SKY);
T(10, 569, 'średnie', '#999');
L([[50, 571], [192, 571]], '#999');
T(10, 581, 'niskie', '#444');
L([[40, 582], [122, 582]], '#444');
L([[136, 582], [146, 582]], '#444');
T(10, 593, 'bardzo niskie', '#222');
L([[74, 594], [152, 594]], '#222');
T(6, 605, 'Mgła', '#ffb000');
L([[26, 605], [217, 605], [219, 597]], '#ffb000');
T(6, 622, 'Czas uniwersalny (UTC)', '#000');
L([[139, 623], [146, 623], [157, 610]], '#000');
T(5, 647, '* powyżej poziomu morza', '#000', {size: 10});

chart.setOption({
    animation: false,
    backgroundColor: '#fff',
    textStyle: {fontFamily: FONT},
    grid: grids,
    xAxis: xAxes,
    yAxis: yAxes,
    series: series,
    graphic: {elements: graphics}
});
</script>
</body>
</html>
